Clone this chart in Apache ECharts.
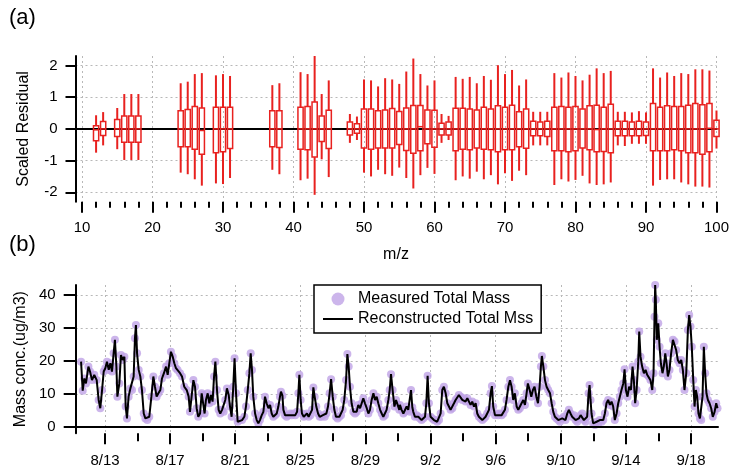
<!DOCTYPE html>
<html>
<head>
<meta charset="utf-8">
<script src="https://cdn.jsdelivr.net/npm/echarts@6/dist/echarts.min.js"></script>
<style>
  html, body { margin: 0; padding: 0; background: #fff; }
  #main { width: 732px; height: 471px; }
</style>
</head>
<body>
<div id="main"></div>
<script>
// (a) scaled residual box plots, one per m/z
const mzValues = [12, 13, 15, 16, 17, 18, 24, 25, 26, 27, 29, 30, 31, 37, 38, 41, 42, 43, 44, 45,
    48, 49, 50, 51, 52, 53, 54, 55, 56, 57, 58, 59, 60, 61, 62, 63, 64, 65, 66, 67, 68, 69, 70,
    71, 72, 73, 74, 75, 76, 77, 78, 79, 80, 81, 82, 83, 84, 85, 86, 87, 88, 89, 90,
    91, 92, 93, 94, 95, 96, 97, 98, 99, 100];
const whiskerLow = [-0.75, -0.52, -0.64, -0.98, -0.98, -0.98, -1.38, -1.43, -1.59, -1.79, -1.72, -1.74, -1.55, -1.29, -1.43, -1.62, -1.57, -2.08, -0.96, -1.52,
    -0.44, -0.35, -1.38, -1.50, -1.29, -1.43, -1.48, -1.22, -1.55, -1.88, -1.46, -1.23, -1.42, -0.44, -0.35, -1.62, -1.50, -1.57, -1.35, -1.59, -1.46, -1.75, -1.40,
    -1.64, -1.32, -1.46, -0.52, -0.52, -0.52, -1.77, -1.59, -1.66, -1.61, -1.48, -1.72, -1.77, -1.75, -1.69, -0.52, -0.54, -0.47, -0.47, -0.47,
    -1.79, -1.61, -1.59, -1.59, -1.69, -1.75, -1.82, -1.82, -1.85, -0.62];
const boxLow = [-0.37, -0.21, -0.24, -0.42, -0.42, -0.42, -0.56, -0.56, -0.64, -0.80, -0.75, -0.72, -0.62, -0.56, -0.59, -0.64, -0.66, -0.89, -0.40, -0.62,
    -0.19, -0.14, -0.60, -0.64, -0.60, -0.60, -0.60, -0.49, -0.68, -0.77, -0.69, -0.47, -0.58, -0.19, -0.19, -0.69, -0.64, -0.66, -0.60, -0.64, -0.66, -0.72, -0.66,
    -0.66, -0.56, -0.61, -0.22, -0.22, -0.24, -0.69, -0.69, -0.72, -0.69, -0.60, -0.66, -0.72, -0.71, -0.75, -0.22, -0.22, -0.22, -0.22, -0.21,
    -0.69, -0.69, -0.69, -0.66, -0.69, -0.75, -0.75, -0.80, -0.72, -0.24];
const boxMedian = [-0.03, 0, 0, 0, 0, 0, 0, 0, 0, -0.05, 0, 0, 0, 0, 0, 0, 0, 0, 0, 0,
    0, 0, 0, 0, 0, 0, 0, 0, 0, 0, 0.07, 0, 0, 0, 0, 0, 0, 0, 0, 0, 0, 0, 0,
    0, 0, 0, 0, 0, 0, 0, 0, 0, 0, 0, 0, -0.02, 0, 0, 0, 0, 0, 0, 0,
    0, 0, 0, 0, 0, 0, 0, 0, 0.02, 0];
const boxHigh = [0.10, 0.23, 0.30, 0.41, 0.41, 0.41, 0.57, 0.61, 0.71, 0.66, 0.68, 0.68, 0.68, 0.57, 0.57, 0.68, 0.71, 0.85, 0.41, 0.59,
    0.22, 0.16, 0.63, 0.63, 0.57, 0.60, 0.64, 0.55, 0.66, 0.74, 0.74, 0.60, 0.59, 0.18, 0.22, 0.65, 0.65, 0.63, 0.60, 0.68, 0.63, 0.73, 0.68,
    0.75, 0.54, 0.63, 0.24, 0.22, 0.24, 0.68, 0.71, 0.68, 0.71, 0.63, 0.73, 0.75, 0.68, 0.78, 0.24, 0.24, 0.22, 0.24, 0.22,
    0.80, 0.68, 0.73, 0.71, 0.71, 0.75, 0.80, 0.76, 0.80, 0.27];
const whiskerHigh = [0.43, 0.53, 0.66, 1.10, 1.10, 1.10, 1.44, 1.49, 1.73, 1.76, 1.69, 1.73, 1.67, 1.38, 1.44, 1.79, 1.73, 2.30, 1.10, 1.53,
    0.47, 0.39, 1.56, 1.53, 1.34, 1.60, 1.56, 1.42, 1.81, 2.22, 1.73, 1.37, 1.53, 0.47, 0.41, 1.64, 1.58, 1.64, 1.44, 1.67, 1.55, 2.01, 1.73,
    1.86, 1.37, 1.56, 0.54, 0.54, 0.54, 1.76, 1.62, 1.78, 1.67, 1.53, 1.71, 1.91, 1.76, 1.83, 0.54, 0.54, 0.52, 0.56, 0.52,
    1.91, 1.62, 1.78, 1.67, 1.76, 1.73, 1.88, 1.88, 1.84, 0.58];
const mzMajorTicks = [10, 20, 30, 40, 50, 60, 70, 80, 90, 100];
const mzMinorTicks = [12, 14, 16, 18, 22, 24, 26, 28, 32, 34, 36, 38, 42, 44, 46, 48, 52, 54, 56, 58,
    62, 64, 66, 68, 72, 74, 76, 78, 82, 84, 86, 88, 92, 94, 96, 98];
const residualTicks = [-2, -1, 0, 1, 2];

// (b) total mass time series; day counted from Aug 0 (Sep 2 = 33)
const sampleDay = [
    11.53, 11.63, 11.73, 11.83, 11.98, 12.08, 12.20, 12.34, 12.49, 12.61, 12.71, 12.82, 12.92, 13.02, 13.12, 13.23, 13.33, 13.43, 13.53, 13.61,
    13.70, 13.76, 13.88, 13.98, 14.09, 14.19, 14.27, 14.35, 14.45, 14.56, 14.66, 14.76, 14.84, 14.90, 14.97, 15.07, 15.17, 15.27, 15.38, 15.48,
    15.60, 15.72, 15.85, 15.97, 16.07, 16.17, 16.28, 16.40, 16.50, 16.62, 16.75, 16.85, 16.95, 17.05, 17.16, 17.26, 17.36, 17.46, 17.61, 17.73,
    17.87, 18.02, 18.14, 18.22, 18.32, 18.43, 18.53, 18.63, 18.73, 18.84, 18.94, 19.02, 19.12, 19.20, 19.31, 19.41, 19.51, 19.61, 19.70, 19.78,
    19.88, 19.98, 20.08, 20.19, 20.29, 20.39, 20.49, 20.60, 20.68, 20.78, 20.88, 20.96, 21.05, 21.15, 21.25,
    21.42, 21.56, 21.66, 21.77, 21.87, 21.95, 22.03, 22.11, 22.22, 22.32, 22.42, 22.52, 22.63, 22.73, 22.83, 22.93, 23.04, 23.14, 23.24, 23.34,
    23.45, 23.55, 23.65, 23.75, 23.81, 23.90, 23.96, 24.06, 24.16, 24.26, 24.37, 24.47, 24.57, 24.69, 24.80, 24.88, 24.94, 25.02, 25.10, 25.21,
    25.31, 25.41, 25.51, 25.62, 25.72, 25.80, 25.88, 25.98, 26.09, 26.19, 26.29, 26.39, 26.50, 26.60, 26.70, 26.80, 26.89, 26.99, 27.09, 27.19,
    27.29, 27.40, 27.50, 27.60, 27.70, 27.81, 27.89, 27.97, 28.05, 28.15, 28.26, 28.36, 28.46, 28.56, 28.67, 28.77, 28.87, 28.97, 29.08, 29.18,
    29.28, 29.38, 29.49, 29.59, 29.69, 29.79, 29.90, 30.00, 30.10, 30.20, 30.30, 30.41, 30.49, 30.57, 30.67, 30.78, 30.88, 30.98, 31.08,
    31.12, 31.22, 31.33, 31.43, 31.53, 31.63, 31.74, 31.80, 31.88, 31.94, 32.04, 32.14, 32.25, 32.35, 32.45, 32.55, 32.66, 32.74, 32.82, 32.90,
    33.00, 33.11, 33.21, 33.31, 33.41, 33.52, 33.62, 33.72, 33.82, 33.93, 34.03, 34.13, 34.23, 34.34, 34.44, 34.54, 34.64, 34.74, 34.85, 34.95,
    35.05, 35.15, 35.26, 35.36, 35.46, 35.56, 35.67, 35.77, 35.87, 35.97, 36.08, 36.18, 36.28, 36.38, 36.48, 36.59, 36.69, 36.77, 36.85, 36.96,
    37.06, 37.16, 37.26, 37.37, 37.47, 37.57, 37.67, 37.78, 37.88, 37.98, 38.08, 38.18, 38.29, 38.39, 38.49, 38.59, 38.70, 38.80, 38.90, 38.98,
    39.09, 39.19, 39.29, 39.39, 39.50, 39.60, 39.70, 39.78, 39.84, 39.93, 40.03, 40.13, 40.23, 40.34, 40.44, 40.54, 40.64, 40.74, 40.85, 40.95,
    41.09, 41.19, 41.29, 41.40, 41.50, 41.60, 41.70, 41.81, 41.91, 42.01, 42.11, 42.22, 42.32, 42.42, 42.52, 42.62, 42.71, 42.77, 42.83, 42.89,
    42.99, 43.10, 43.20, 43.30, 43.40, 43.51, 43.61, 43.71, 43.81, 43.91, 44.02, 44.12, 44.22, 44.32, 44.43, 44.53, 44.63, 44.73, 44.84, 44.92,
    45.00, 45.10, 45.20, 45.31, 45.41, 45.49, 45.57, 45.66, 45.76, 45.82, 45.90, 46.00, 46.11, 46.21, 46.31, 46.41, 46.51, 46.62, 46.70, 46.76,
    46.80, 46.84, 46.90, 46.99, 47.07, 47.15, 47.25, 47.33, 47.42, 47.50, 47.58, 47.68, 47.78, 47.89, 47.99, 48.09, 48.19, 48.30, 48.40, 48.50,
    48.60, 48.71, 48.81, 48.89, 48.97, 49.05, 49.14, 49.22, 49.30, 49.38, 49.46, 49.55, 49.63, 49.71, 49.79, 49.87, 49.95, 50.04, 50.14, 50.24,
    50.34, 50.45, 50.55, 50.63];
const totalMass = [
    19.8, 11.0, 14.7, 13.2, 18.3, 16.8, 14.2, 15.8, 14.2, 8.2, 5.7, 11.2, 16.8, 17.8, 19.8, 17.3, 19.3, 16.8, 22.3, 26.4,
    18.3, 9.2, 13.2, 21.8, 20.3, 21.3, 6.2, 2.6, 9.2, 11.7, 11.2, 15.3, 26.9, 30.9, 22.3, 17.3, 15.3, 11.2, 4.1, 2.6,
    2.1, 3.1, 9.2, 15.3, 12.2, 9.2, 10.2, 11.2, 14.7, 16.3, 18.3, 15.8, 19.3, 22.8, 21.3, 19.3, 17.8, 17.3, 16.3, 15.3,
    12.2, 11.2, 9.2, 4.6, 9.2, 14.2, 12.2, 5.7, 3.1, 4.1, 10.2, 9.7, 4.1, 8.2, 10.2, 7.2, 9.7, 7.7, 15.3, 19.8,
    11.2, 5.2, 4.1, 5.2, 4.6, 8.2, 11.7, 9.7, 6.2, 3.1, 12.2, 20.8, 10.2, 1.6, 2.1,
    2.1, 3.1, 6.2, 11.2, 16.3, 22.3, 17.3, 9.2, 4.1, 2.1, 1.1, 2.1, 3.6, 4.6, 9.2, 7.2, 5.7, 6.7, 4.1, 3.1,
    3.6, 4.1, 6.2, 9.2, 10.7, 9.5, 5.2, 3.6, 3.1, 3.6, 4.1, 3.6, 4.1, 3.6, 4.6, 10.2, 15.8, 8.2, 4.1, 3.1,
    3.6, 4.1, 3.1, 3.6, 5.2, 12.0, 9.2, 6.2, 4.1, 3.1, 3.1, 3.6, 3.1, 4.1, 6.2, 10.2, 14.5, 9.2, 5.2, 3.1,
    2.6, 3.1, 3.6, 5.2, 8.2, 14.2, 22.1, 18.3, 12.2, 7.2, 4.6, 4.1, 4.6, 6.7, 5.7, 7.2, 8.7, 7.2, 5.7, 4.1,
    5.2, 8.2, 10.2, 8.2, 9.2, 7.2, 5.2, 4.1, 3.1, 3.6, 5.2, 8.2, 11.2, 16.0, 11.2, 6.2, 8.2, 6.7, 5.2,
    6.7, 5.2, 4.1, 4.6, 6.2, 5.2, 4.6, 11.2, 6.0, 4.6, 3.1, 3.6, 3.1, 2.6, 2.1, 2.6, 3.1, 7.2, 15.5, 7.2,
    3.1, 2.6, 2.1, 2.1, 1.6, 2.1, 4.1, 11.2, 12.2, 10.2, 7.2, 6.2, 5.2, 5.7, 7.2, 8.2, 8.7, 9.7, 9.2, 8.2,
    8.7, 7.7, 8.7, 7.7, 6.7, 7.7, 6.2, 7.2, 4.1, 3.1, 2.6, 2.1, 2.6, 3.1, 4.1, 5.2, 10.2, 12.4, 6.2, 3.6,
    4.1, 3.6, 4.1, 3.6, 4.1, 5.2, 8.2, 12.2, 14.2, 12.2, 8.2, 10.2, 6.2, 5.2, 5.7, 7.2, 8.2, 6.7, 10.2, 13.2,
    11.2, 9.2, 11.2, 12.2, 9.2, 7.2, 12.2, 18.3, 21.5, 18.3, 14.2, 12.2, 11.2, 10.2, 7.2, 4.6, 3.1, 2.6, 2.1, 1.6,
    2.6, 3.1, 2.1, 4.1, 5.2, 4.1, 3.1, 3.6, 2.1, 1.6, 2.6, 3.6, 4.1, 2.1, 1.6, 3.1, 10.2, 12.7, 8.2, 4.1,
    1.1, 0.6, 1.6, 1.1, 2.1, 1.6, 2.1, 4.1, 7.2, 8.2, 6.7, 7.7, 6.2, 2.1, 4.1, 7.2, 9.2, 11.2, 13.2, 17.5,
    11.2, 9.2, 12.2, 11.2, 18.3, 14.2, 7.2, 11.2, 19.8, 28.9, 21.3, 18.3, 16.3, 17.3, 15.8, 15.3, 14.2, 11.2, 16.3, 33.4,
    43.0, 38.5, 26.4, 31.4, 24.3, 19.3, 16.3, 18.3, 22.3, 19.3, 15.3, 17.3, 22.3, 26.4, 25.9, 23.3, 20.3, 19.3, 20.3, 17.3,
    11.2, 16.3, 29.4, 33.9, 30.4, 24.3, 14.2, 6.2, 11.2, 9.2, 4.1, 2.6, 2.1, 9.2, 24.3, 16.3, 10.2, 8.2, 7.2, 5.7,
    3.1, 4.6, 7.2, 5.7];
const massTicks = [0, 10, 20, 30, 40];
const dateMajorTicks = [13, 17, 21, 25, 29, 33, 37, 41, 45, 49];
const dateMinorTicks = [15, 19, 23, 27, 31, 35, 39, 43, 47];

const fontName = '"Liberation Sans", Arial, sans-serif';
const boxRed = '#e8211f';
const dotPurple = '#bfa3e6';
const gridDots = { color: '#b8b8b8', type: [2, 3], width: 1 };

const boxRows = mzValues.map((mz, i) =>
    [mz, whiskerLow[i], boxLow[i], boxMedian[i], boxHigh[i], whiskerHigh[i]]);
const massRows = sampleDay.map((d, i) => [d, totalMass[i]]);

function dayLabel(v) {
    return v <= 31 ? '8/' + v : '9/' + (v - 31);
}

function renderBox(params, api) {
    const x = api.value(0);
    const lo = api.coord([x, api.value(1)]);
    const q1 = api.coord([x, api.value(2)]);
    const med = api.coord([x, api.value(3)]);
    const q3 = api.coord([x, api.value(4)]);
    const hi = api.coord([x, api.value(5)]);
    const half = 2.6;
    return {
        type: 'group',
        children: [
            { type: 'line', shape: { x1: lo[0], y1: lo[1], x2: q1[0], y2: q1[1] }, style: { stroke: boxRed, lineWidth: 2 } },
            { type: 'line', shape: { x1: q3[0], y1: q3[1], x2: hi[0], y2: hi[1] }, style: { stroke: boxRed, lineWidth: 2 } },
            { type: 'rect', shape: { x: q3[0] - half, y: q3[1], width: half * 2, height: q1[1] - q3[1] },
              style: { stroke: boxRed, fill: 'rgba(255,255,255,0)', lineWidth: 1.5 } },
            { type: 'line', shape: { x1: med[0] - half, y1: med[1], x2: med[0] + half, y2: med[1] }, style: { stroke: boxRed, lineWidth: 1.5 } }
        ]
    };
}

const blackLine = { color: '#000', width: 2 };
const labelFont = { fontFamily: fontName, fontSize: 15, color: '#000' };
const nameFont = { fontFamily: fontName, fontSize: 16, color: '#000' };

// an extra bottom axis in a grid that only draws tick marks
function tickAxis(grid, min, max, values, len) {
    return {
        gridIndex: grid, type: 'value', min: min, max: max, position: 'bottom',
        axisLine: { show: false },
        axisTick: { show: true, customValues: values, length: len, lineStyle: { color: '#000', width: 2 } },
        axisLabel: { show: false },
        splitLine: { show: false }
    };
}

let option = {
    animation: false,
    backgroundColor: '#fff',
    textStyle: { fontFamily: fontName },
    title: [
        { text: '(a)', left: 4, top: 2, textStyle: { fontFamily: fontName, fontSize: 22, fontWeight: 'normal', color: '#000' } },
        { text: '(b)', left: 4, top: 229, textStyle: { fontFamily: fontName, fontSize: 22, fontWeight: 'normal', color: '#000' } }
    ],
    legend: {
        left: 314, top: 285,
        orient: 'vertical',
        data: [
            { name: 'Measured Total Mass' },
            { name: 'Reconstructed Total Mss', itemStyle: { opacity: 0 } }
        ],
        backgroundColor: '#fff',
        borderColor: '#000',
        borderWidth: 1.5,
        borderRadius: 0,
        padding: [6, 8, 6, 8],
        itemGap: 4,
        itemWidth: 30,
        itemHeight: 13,
        textStyle: { fontFamily: fontName, fontSize: 16, color: '#000' }
    },
    grid: [
        { left: 75.5, right: 15.5, top: 56, bottom: 269.2 },
        { left: 75.7, right: 14, top: 285, bottom: 37.7 }
    ],
    xAxis: [
        {
            gridIndex: 0, type: 'value', min: 9.08, max: 100, position: 'bottom',
            name: 'm/z', nameLocation: 'middle', nameGap: 45,
            nameTextStyle: nameFont,
            axisLine: { lineStyle: blackLine },
            axisTick: { show: false, customValues: mzMajorTicks },
            axisLabel: Object.assign({ customValues: mzMajorTicks, margin: 19 }, labelFont),
            splitLine: { show: true, lineStyle: gridDots }
        },
        tickAxis(0, 9.08, 100, mzMajorTicks, 11),
        tickAxis(0, 9.08, 100, mzMinorTicks, 6),
        {
            gridIndex: 1, type: 'value', min: 11.2, max: 50.66, position: 'bottom',
            axisLine: { lineStyle: blackLine },
            axisTick: { show: false, customValues: dateMajorTicks },
            axisLabel: Object.assign({ customValues: dateMajorTicks, margin: 20, formatter: dayLabel }, labelFont),
            splitLine: { show: true, lineStyle: gridDots }
        },
        tickAxis(1, 11.2, 50.66, dateMajorTicks, 11),
        tickAxis(1, 11.2, 50.66, dateMinorTicks, 8)
    ],
    yAxis: [
        {
            gridIndex: 0, type: 'value', min: -2.3, max: 2.3,
            name: 'Scaled Residual', nameLocation: 'middle', nameGap: 44, nameRotate: 90,
            nameTextStyle: nameFont,
            axisLine: { lineStyle: blackLine },
            axisTick: { customValues: residualTicks, length: 10, lineStyle: blackLine },
            axisLabel: Object.assign({ customValues: residualTicks, margin: 18 }, labelFont),
            splitLine: { show: true, lineStyle: gridDots }
        },
        {
            gridIndex: 1, type: 'value', min: -1.9, max: 43,
            name: 'Mass conc.(ug/m3)', nameLocation: 'middle', nameGap: 44, nameRotate: 90,
            nameTextStyle: nameFont,
            axisLine: { lineStyle: blackLine },
            axisTick: { customValues: massTicks, length: 12, lineStyle: blackLine },
            axisLabel: Object.assign({ customValues: massTicks, margin: 20 }, labelFont),
            splitLine: { show: true, lineStyle: gridDots }
        }
    ],
    series: [
        {
            type: 'custom',
            xAxisIndex: 0, yAxisIndex: 0,
            renderItem: renderBox,
            encode: { x: 0, y: [1, 2, 3, 4, 5] },
            data: boxRows,
            z: 3,
            markLine: {
                silent: true, symbol: 'none', label: { show: false },
                lineStyle: { color: '#000', width: 2, type: 'solid' },
                data: [{ yAxis: 0 }],
                z: 2
            }
        },
        {
            name: 'Measured Total Mass',
            type: 'scatter',
            xAxisIndex: 3, yAxisIndex: 1,
            symbol: 'circle',
            symbolSize: 8,
            itemStyle: { color: dotPurple },
            data: massRows
        },
        {
            name: 'Reconstructed Total Mss',
            type: 'line',
            xAxisIndex: 3, yAxisIndex: 1,
            symbol: 'none',
            lineStyle: { color: '#000', width: 2 },
            itemStyle: { color: '#000' },
            data: massRows,
            markLine: {
                silent: true, symbol: 'none', label: { show: false },
                lineStyle: { color: '#000', width: 2, type: 'solid' },
                data: [{ yAxis: 0 }]
            }
        }
    ]
};

const myChart = echarts.init(document.getElementById('main'));
myChart.setOption(option);
</script>
</body>
</html>
